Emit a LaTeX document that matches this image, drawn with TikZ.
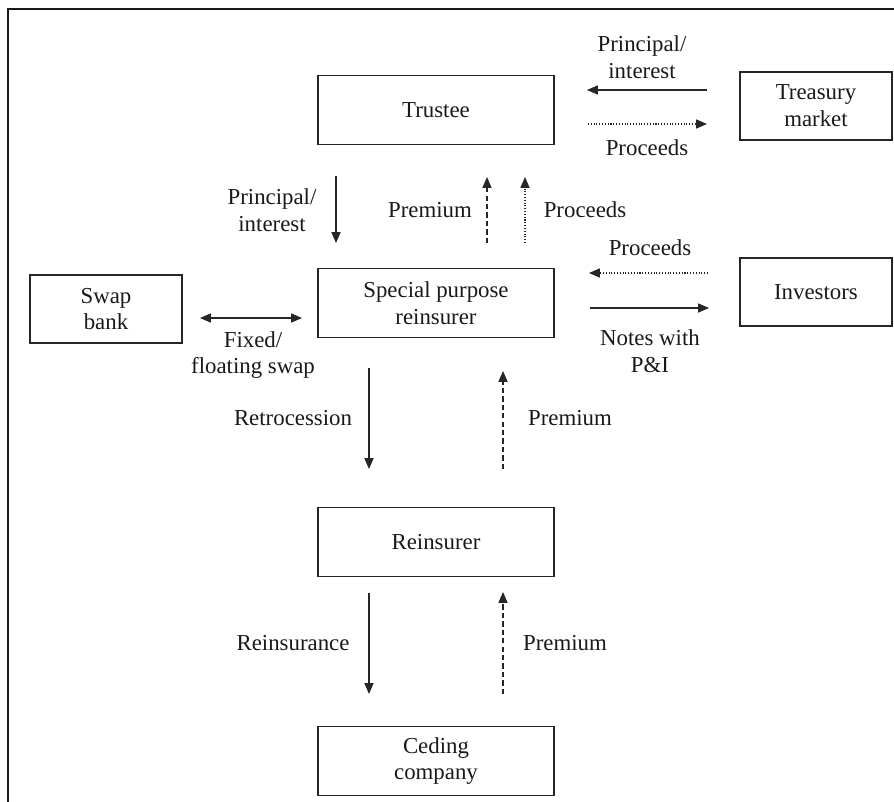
\documentclass[tikz,border=0pt]{standalone}
\usepackage{fontspec}
\setmainfont{Liberation Serif}
\usepackage{tikz}
\usetikzlibrary{arrows.meta, positioning, calc}

\begin{document}
\begin{tikzpicture}[
    x=0.02cm, y=-0.02cm,
    font=\fontsize{13}{15.3}\selectfont,
    box/.style={rectangle, draw=black!85, line width=0.6pt, minimum width=4.72cm, minimum height=1.38cm, text centered, align=center, inner sep=0pt, text=black!90},
    smallbox/.style={box, minimum width=3.04cm, minimum height=1.36cm},
    arrow/.style={-{Triangle[length=6.2pt,width=5.2pt]}, draw=black!85, line width=0.6pt},
    twoway/.style={{Triangle[length=6.2pt,width=5.2pt]}-{Triangle[length=6.2pt,width=5.2pt]}, draw=black!85, line width=0.6pt},
    dashedarrow/.style={arrow, dash pattern=on 3pt off 1.8pt},
    dottedarrow/.style={arrow, dash pattern=on 0.6pt off 1pt},
    label_text/.style={align=center, text=black!90, inner sep=0pt}
]
\useasboundingbox (0,0) rectangle (894,802);

% Frame
\draw [line width=1.1pt, black!90] (8,802) |- (894,9);

% Nodes
\node (trustee) [box] at (436,110) {Trustee};
\node (treasury) [smallbox] at (816,106) {Treasury\\market};
\node (spr) [box] at (436,303) {Special purpose\\reinsurer};
\node (swap) [smallbox] at (106,309) {Swap\\bank};
\node (investors) [smallbox] at (816,292) {Investors};
\node (reinsurer) [box] at (436,542) {Reinsurer};
\node (ceding) [box] at (436,761) {Ceding\\company};

% Labels
\node (l_pi_top) [label_text] at (642,57) {Principal/\\interest};
\node (l_proc_top) [label_text] at (647,148) {Proceeds};
\node (l_pi_left) [label_text] at (272,210) {Principal/\\interest};
\node (l_prem_mid) [label_text] at (430,210) {Premium};
\node (l_proc_mid) [label_text] at (585,210) {Proceeds};
\node (l_proc_inv) [label_text] at (650,248) {Proceeds};
\node (l_notes) [label_text] at (650,351) {Notes with\\P\&I};
\node (l_swap) [label_text] at (253,355) {Fixed/\\floating swap};
\node (l_retro) [label_text] at (293,418) {Retrocession};
\node (l_prem_low) [label_text] at (570,418) {Premium};
\node (l_reins) [label_text] at (293,643) {Reinsurance};
\node (l_prem_bot) [label_text] at (565,643) {Premium};

% Arrow ends
\coordinate (tr_a) at (707,90);  \coordinate (tr_b) at (587,90);
\coordinate (tr_c) at (588,124); \coordinate (tr_d) at (707,124);
\coordinate (pi_a) at (336,176); \coordinate (pi_b) at (336,243);
\coordinate (pm_a) at (487,243); \coordinate (pm_b) at (487,177);
\coordinate (pc_a) at (525,243); \coordinate (pc_b) at (525,177);
\coordinate (iv_a) at (708,273); \coordinate (iv_b) at (589,273);
\coordinate (iv_c) at (590,308); \coordinate (iv_d) at (709,308);
\coordinate (sw_a) at (200,318); \coordinate (sw_b) at (302,318);
\coordinate (rt_a) at (369,368); \coordinate (rt_b) at (369,469);
\coordinate (rp_a) at (503,469); \coordinate (rp_b) at (503,371);
\coordinate (ri_a) at (369,593); \coordinate (ri_b) at (369,694);
\coordinate (cp_a) at (503,694); \coordinate (cp_b) at (503,592);

% Paths
\draw [arrow] (tr_a) -- (tr_b);
\draw [dottedarrow] (tr_c) -- (tr_d);
\draw [arrow] (pi_a) -- (pi_b);
\draw [dashedarrow] (pm_a) -- (pm_b);
\draw [dottedarrow] (pc_a) -- (pc_b);
\draw [dottedarrow] (iv_a) -- (iv_b);
\draw [arrow] (iv_c) -- (iv_d);
\draw [twoway] (sw_a) -- (sw_b);
\draw [arrow] (rt_a) -- (rt_b);
\draw [dashedarrow] (rp_a) -- (rp_b);
\draw [arrow] (ri_a) -- (ri_b);
\draw [dashedarrow] (cp_a) -- (cp_b);

\end{tikzpicture}
\end{document}
